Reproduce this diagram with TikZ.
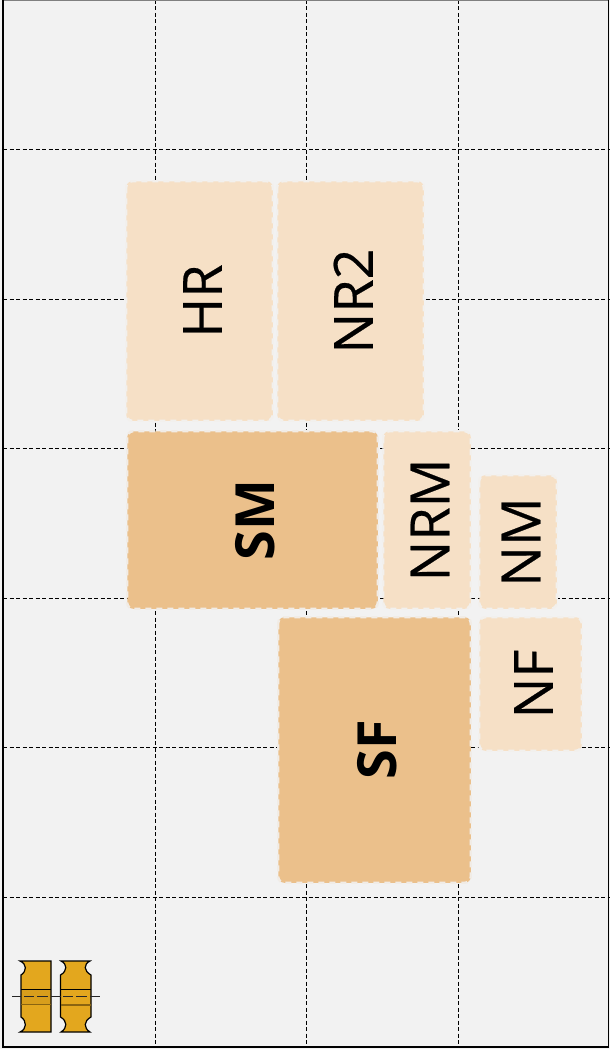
\documentclass[tikz,border=0pt]{standalone}
\usepackage{fontspec}
\setmainfont{Open Sans}
\newfontfamily\lblfont[FakeBold=0.4]{Open Sans}
\usepackage{xcolor}
\usetikzlibrary{positioning}
\definecolor{bmbg}{HTML}{F2F2F2}
\definecolor{bmlight}{HTML}{F6E0C6}
\definecolor{bmdark}{HTML}{EBC08B}
\definecolor{bmgold}{HTML}{E3A71E}
\definecolor{bmshade}{HTML}{8A6410}
\begin{document}
\begin{tikzpicture}[x=1pt,y=-1pt,font=\fontsize{54}{54}\selectfont\lblfont]
  \tikzstyle{b}=[rotate=90,inner sep=0pt,rounded corners=6pt,text height=44.5pt,text depth=0pt,align=center,line width=2.4pt,dash pattern=on 6pt off 5pt]
  \tikzstyle{nr}=[b,fill=bmlight,draw=bmlight!12!bmbg]
  \tikzstyle{st}=[b,fill=bmdark,draw=bmdark!12!bmbg,font=\fontsize{54}{54}\selectfont\bfseries]
  \tikzstyle{gridline}=[black,line width=0.9pt,dash pattern=on 4pt off 2.5pt]
  \tikzstyle{part}=[draw=black,line width=1.2pt,fill=bmgold]
  \useasboundingbox (0,0) rectangle (610,1049);
  \fill[bmbg] (0,0) rectangle (610,1049);
  % grid
  \foreach \gx in {155,306.5,458} \draw[gridline] (\gx,0) -- (\gx,1047);
  \foreach \gy in {149.5,299,448.5,598,747.5,897} \draw[gridline] (3,\gy) -- (612,\gy);
  % frame
  \draw[black!50,line width=1pt] (3,0.5) -- (608.5,0.5);
  \draw[black,line width=1.2pt] (3,0) -- (3,1047);
  \draw[black,line width=1.2pt] (608.7,0) -- (608.7,1047);
  \draw[black,line width=2.2pt] (2.4,1047) -- (609.3,1047);
  % blocks
  \node[nr,minimum width=239.5pt,minimum height=146.5pt] (hr) at (199.5,301) {HR};
  \node[nr,minimum width=239.5pt,minimum height=146.5pt] (nr2) at (350.5,301) {NR2};
  \node[st,minimum width=177.5pt,minimum height=250.5pt] (sm) at (252.5,520) {SM};
  \node[nr,minimum width=177.5pt,minimum height=87.5pt] (nrm) at (427,520) {NRM};
  \node[nr,minimum width=133.5pt,minimum height=77.5pt] (nm) at (518,542) {NM};
  \node[st,minimum width=265.5pt,minimum height=192.5pt] (sf) at (374.5,750) {SF};
  \node[nr,minimum width=133.5pt,minimum height=102.5pt] (nf) at (530.5,684) {NF};
  % bearing
  \draw[part] (20,961) -- (51,961) -- (51,1032) -- (20,1032)
    .. controls (27,1029) and (27,1021) .. (21,1017) -- (21,975)
    .. controls (27,971) and (27,964) .. (20,961) -- cycle;
  \draw[part] (61,961) -- (90,961) .. controls (83.5,964) and (83.5,971) .. (91,975)
    -- (91,1017) .. controls (83.5,1021) and (83.5,1028) .. (90,1032) -- (61,1032)
    .. controls (67.5,1028) and (67.5,1021) .. (60.5,1017) -- (60.5,975)
    .. controls (67.5,971) and (67.5,964) .. (61,961) -- cycle;
  \fill[bmshade,opacity=0.12] (21,989) rectangle (51,1004.5);
  \draw[black,line width=0.8pt] (21,989) -- (51,989) (61,989) -- (91,989);
  \draw[bmshade,line width=1pt] (21,1004.5) -- (51,1004.5);
  \draw[bmshade,line width=1.8pt] (61,1005) -- (91,1005);
  \draw[black!85,line width=0.8pt] (12,996.5) -- (21,996.5)
    (24,996.5) -- (34,996.5) (37,996.5) -- (48,996.5) (51,996.5) -- (61,996.5)
    (63,996.5) -- (73,996.5) (76,996.5) -- (87,996.5) (90,996.5) -- (100,996.5);
\end{tikzpicture}
\end{document}
